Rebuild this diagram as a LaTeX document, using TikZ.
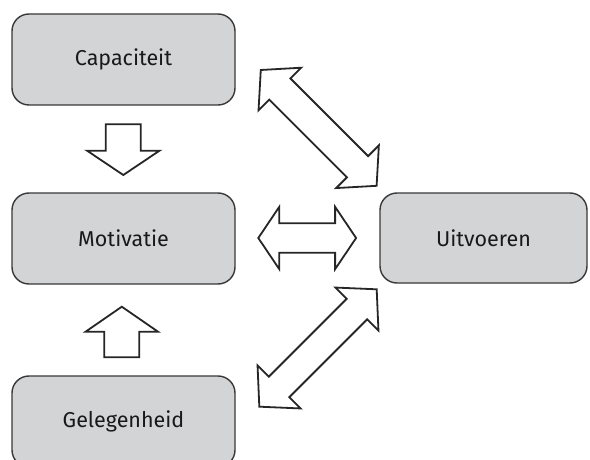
\documentclass[tikz,border=0pt]{standalone}
\usepackage{fontspec}
\setsansfont{Fira Sans}
\begin{document}
\begin{tikzpicture}[x=1pt,y=-1pt,
  box/.style={draw=black!78,line width=1.4pt,fill=boxgrey,rounded corners=17pt,
    minimum width=223pt,minimum height=91pt,inner sep=0pt,
    font=\sffamily\fontsize{21.5}{24}\selectfont,text=black!90},
  arrowline/.style={draw=black!85,line width=1.8pt,fill=white,line join=miter},
  % double block arrow centred on the origin: half length / head length / head half width / shaft half width
  pics/dblarrow/.style args={#1/#2/#3/#4}{code={
    \draw[arrowline] (-#1,0) -- (-#1+#2,-#3) -- (-#1+#2,-#4) -- (#1-#2,-#4) -- (#1-#2,-#3)
      -- (#1,0) -- (#1-#2,#3) -- (#1-#2,#4) -- (-#1+#2,#4) -- (-#1+#2,#3) -- cycle;
  }},
  % single block arrow from its tail at the origin: length / head length / head half width / shaft half width
  pics/sglarrow/.style args={#1/#2/#3/#4}{code={
    \draw[arrowline] (0,-#4) -- (#1-#2,-#4) -- (#1-#2,-#3) -- (#1,0) -- (#1-#2,#3)
      -- (#1-#2,#4) -- (0,#4) -- cycle;
  }}]
\definecolor{boxgrey}{RGB}{211,212,214}
\useasboundingbox (0,0) rectangle (590,460);
\begin{scope}
\clip (0,0) rectangle (590,460);

% factor boxes
\node[box] (cap) at (123.5,59.5) {Capaciteit};
\node[box] (mot) at (123.5,238.5) {Motivatie};
\node[box] (gel) at (123.5,421.5) {Gelegenheid};
\node[box,minimum width=207pt,minimum height=90pt] (uit) at (483.5,238) {Uitvoeren};

% block arrows between the boxes
\coordinate (capmot) at (123.3,124.3);
\coordinate (gelmot) at (121.8,357.3);
\coordinate (capuit) at (318.7,127.9);
\coordinate (motuit) at (307.2,238);
\coordinate (geluit) at (318,348);

\path (capmot) pic[rotate=-90] {sglarrow=50.7/24.3/36.2/17.5};
\path (gelmot) pic[rotate=90] {sglarrow=50.6/25/36.2/17.5};
\path (capuit) pic[rotate=-45] {dblarrow=81.9/27/30.2/15};
\path (motuit) pic {dblarrow=48.9/21/31.2/14.7};
\path (geluit) pic[rotate=45] {dblarrow=83/28/30.5/14.5};
\end{scope}
\end{tikzpicture}
\end{document}
